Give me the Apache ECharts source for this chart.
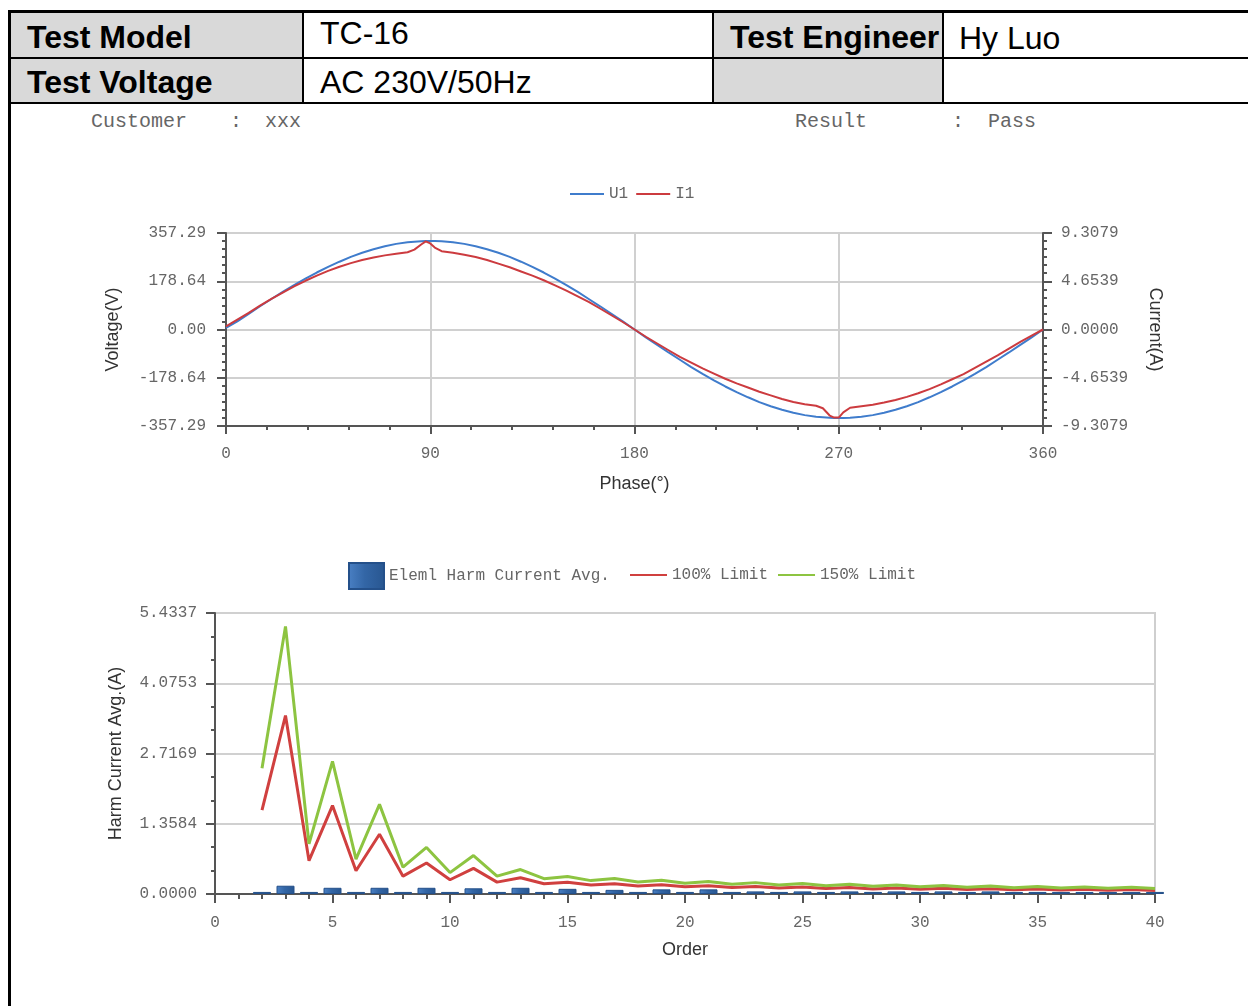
<!DOCTYPE html>
<html>
<head>
<meta charset="utf-8">
<script src="https://cdn.jsdelivr.net/npm/echarts@6/dist/echarts.min.js"></script>
<style>
body { margin: 0; width: 1248px; height: 1006px; position: relative; overflow: hidden; background: #fff; }
.cell { position: absolute; background: #d9d9d9; }
.bar { position: absolute; background: #000; }
.hd { position: absolute; font-family: "Liberation Sans", Arial, sans-serif; font-size: 32px; color: #000; white-space: nowrap; line-height: 1; }
.hd.b { font-weight: bold; }
.info { position: absolute; font-family: "Liberation Mono", monospace; font-size: 20px; color: #666; white-space: pre; line-height: 1; }
#main { position: absolute; left: 0; top: 0; width: 1248px; height: 1006px; }
</style>
</head>
<body>
<!-- header table -->
<div class="cell" style="left:11px;top:13px;width:292px;height:90px"></div>
<div class="cell" style="left:714px;top:13px;width:229px;height:90px"></div>
<div class="bar" style="left:8px;top:10px;width:1240px;height:3px"></div>
<div class="bar" style="left:8px;top:57px;width:1240px;height:2px"></div>
<div class="bar" style="left:8px;top:102px;width:1240px;height:2px"></div>
<div class="bar" style="left:8px;top:10px;width:3px;height:996px"></div>
<div class="bar" style="left:302px;top:10px;width:2px;height:94px"></div>
<div class="bar" style="left:712px;top:10px;width:2px;height:94px"></div>
<div class="bar" style="left:942px;top:10px;width:2px;height:94px"></div>
<div class="hd b" style="left:27px;top:21px">Test Model</div>
<div class="hd" style="left:320px;top:17px">TC-16</div>
<div class="hd b" style="left:730px;top:21px">Test Engineer</div>
<div class="hd" style="left:959px;top:22px">Hy Luo</div>
<div class="hd b" style="left:27px;top:66px">Test Voltage</div>
<div class="hd" style="left:320px;top:66px">AC 230V/50Hz</div>
<div class="info" style="left:91px;top:112px">Customer</div>
<div class="info" style="left:230px;top:112px">:</div>
<div class="info" style="left:265px;top:112px">xxx</div>
<div class="info" style="left:795px;top:112px">Result</div>
<div class="info" style="left:952px;top:112px">:</div>
<div class="info" style="left:988px;top:112px">Pass</div>
<div id="main"></div>
<script>
// waveform, phase in degrees
const phase = [0,5,10,15,20,25,30,35,40,45,50,55,60,65,70,75,80,83,86,88,90,92,95,100,105,110,115,120,125,130,135,140,145,150,155,160,165,170,175,180,185,190,195,200,205,210,215,220,225,230,235,240,245,250,255,260,263,266,268,270,272,275,280,285,290,295,300,305,310,315,320,325,330,335,340,345,350,355,360];
const u1 = [6,30,58,86,113,139,164,188,211,232,251,269,284,297,308,317,323,325,327,328,328,328,327,323,317,308,297,284,269,251,232,211,188,164,139,112,85,57,29,0,-29,-57,-85,-112,-139,-164,-188,-211,-232,-251,-269,-284,-297,-308,-317,-323,-325,-327,-328,-328,-328,-327,-323,-317,-308,-297,-284,-269,-251,-232,-211,-188,-164,-139,-112,-85,-57,-29,0];
const i1 = [0.3,0.95,1.6,2.3,2.95,3.55,4.15,4.7,5.2,5.65,6.05,6.4,6.7,6.95,7.15,7.3,7.45,7.7,8.2,8.5,8.3,7.9,7.55,7.4,7.2,7.0,6.7,6.35,6.0,5.6,5.2,4.75,4.25,3.75,3.2,2.65,2.0,1.35,0.7,0,-0.7,-1.35,-2.0,-2.65,-3.2,-3.75,-4.25,-4.75,-5.2,-5.6,-6.0,-6.35,-6.7,-7.0,-7.2,-7.35,-7.6,-8.3,-8.5,-8.5,-8.0,-7.55,-7.4,-7.25,-7.05,-6.8,-6.5,-6.15,-5.75,-5.3,-4.8,-4.3,-3.7,-3.1,-2.5,-1.85,-1.2,-0.6,0];
const voltTicks = ['-357.29','-178.64','0.00','178.64','357.29'];
const currTicks = ['-9.3079','-4.6539','0.0000','4.6539','9.3079'];

// harmonics
const orders = [2,3,4,5,6,7,8,9,10,11,12,13,14,15,16,17,18,19,20,21,22,23,24,25,26,27,28,29,30,31,32,33,34,35,36,37,38,39,40];
const harmAvg = [0.04,0.16,0.04,0.12,0.04,0.12,0.04,0.12,0.04,0.11,0.04,0.12,0.04,0.10,0.04,0.08,0.04,0.09,0.04,0.09,0.04,0.05,0.04,0.05,0.04,0.05,0.04,0.05,0.04,0.05,0.04,0.05,0.04,0.04,0.04,0.04,0.04,0.04,0.04];
const limit100 = [1.62,3.45,0.645,1.71,0.45,1.155,0.345,0.60,0.276,0.495,0.23,0.315,0.197,0.225,0.173,0.199,0.153,0.178,0.138,0.161,0.125,0.147,0.115,0.135,0.106,0.125,0.099,0.116,0.092,0.109,0.086,0.102,0.081,0.096,0.077,0.091,0.073,0.087,0.069];
const limit150 = [2.43,5.175,0.968,2.565,0.675,1.733,0.518,0.90,0.414,0.743,0.345,0.473,0.296,0.338,0.259,0.298,0.23,0.266,0.207,0.241,0.188,0.22,0.173,0.203,0.159,0.188,0.148,0.175,0.138,0.163,0.129,0.153,0.122,0.145,0.115,0.137,0.109,0.13,0.104];
const harmTicks = ['0.0000','1.3584','2.7169','4.0753','5.4337'];

const monoFont = 'Liberation Mono';
const sansFont = 'Liberation Sans';
const lblColor = '#666';
const axisCol = '#555';

function tickAxis(labels) {
    const min = Number(labels[0]);
    const max = Number(labels[labels.length - 1]);
    const step = (max - min) / (labels.length - 1);
    return {
        min: min, max: max, interval: step,
        fmt: v => labels[Math.round((v - min) / step)] || ''
    };
}
const vAx = tickAxis(voltTicks);
const cAx = tickAxis(currTicks);
const hAx = tickAxis(harmTicks);

function pairs(xs, ys) {
    return xs.map((x, k) => [x, ys[k]]);
}

const baseLabel = { color: lblColor, fontFamily: monoFont, fontSize: 16 };
const nameStyle = { color: '#333', fontFamily: sansFont, fontSize: 18 };

var myChart = echarts.init(document.getElementById('main'));
var option = {
    animation: false,
    legend: [
        {
            data: ['U1', 'I1'],
            left: 565, top: 181,
            icon: 'rect', itemWidth: 34, itemHeight: 2, itemGap: 8,
            textStyle: baseLabel
        },
        {
            data: ['Eleml Harm Current Avg.'],
            left: 343, top: 557,
            icon: 'rect', itemWidth: 35, itemHeight: 26,
            textStyle: baseLabel
        },
        {
            data: ['100% Limit', '150% Limit'],
            left: 625, top: 562,
            icon: 'rect', itemWidth: 37, itemHeight: 2, itemGap: 10,
            textStyle: baseLabel
        }
    ],
    grid: [
        { left: 226, top: 233, width: 817, height: 193, outerBoundsMode: 'none' },
        { left: 215, top: 613, width: 940, height: 281, outerBoundsMode: 'none',
          show: true, borderColor: '#cfcfcf', borderWidth: 2 }
    ],
    xAxis: [
        {
            gridIndex: 0, type: 'value', min: 0, max: 360, interval: 90,
            name: 'Phase(°)', nameLocation: 'middle', nameGap: 49, nameTextStyle: nameStyle,
            axisLine: { onZero: false, lineStyle: { color: axisCol, width: 2 } },
            axisTick: { length: 8, lineStyle: { color: axisCol, width: 2 } },
            minorTick: { show: true, splitNumber: 5, length: 4, lineStyle: { color: axisCol, width: 2 } },
            axisLabel: Object.assign({ margin: 20 }, baseLabel),
            splitLine: { show: true, lineStyle: { color: '#d0d0d0', width: 2 } }
        },
        {
            gridIndex: 1, type: 'value', min: 0, max: 40, interval: 5,
            name: 'Order', nameLocation: 'middle', nameGap: 47, nameTextStyle: nameStyle,
            axisLine: { onZero: false, lineStyle: { color: axisCol, width: 2 } },
            axisTick: { length: 9, lineStyle: { color: axisCol, width: 2 } },
            minorTick: { show: true, splitNumber: 5, length: 5, lineStyle: { color: axisCol, width: 2 } },
            axisLabel: Object.assign({ margin: 21 }, baseLabel),
            splitLine: { show: false }
        }
    ],
    yAxis: [
        {
            gridIndex: 0, type: 'value', position: 'left',
            min: vAx.min, max: vAx.max, interval: vAx.interval,
            name: 'Voltage(V)', nameLocation: 'middle', nameGap: 104, nameTextStyle: nameStyle,
            axisLine: { show: true, onZero: false, lineStyle: { color: axisCol, width: 2 } },
            axisTick: { show: true, length: 9, lineStyle: { color: axisCol, width: 2 } },
            minorTick: { show: true, splitNumber: 6, length: 4, lineStyle: { color: axisCol, width: 2 } },
            axisLabel: Object.assign({ margin: 20, formatter: vAx.fmt }, baseLabel),
            splitLine: { show: true, lineStyle: { color: '#d0d0d0', width: 2 } }
        },
        {
            gridIndex: 0, type: 'value', position: 'right',
            min: cAx.min, max: cAx.max, interval: cAx.interval,
            name: 'Current(A)', nameLocation: 'middle', nameGap: 103, nameRotate: -90, nameTextStyle: nameStyle,
            axisLine: { show: true, onZero: false, lineStyle: { color: axisCol, width: 2 } },
            axisTick: { show: true, length: 9, lineStyle: { color: axisCol, width: 2 } },
            minorTick: { show: true, splitNumber: 6, length: 4, lineStyle: { color: axisCol, width: 2 } },
            axisLabel: Object.assign({ margin: 18, formatter: cAx.fmt }, baseLabel),
            splitLine: { show: false }
        },
        {
            gridIndex: 1, type: 'value',
            min: hAx.min, max: hAx.max, interval: hAx.interval,
            name: 'Harm Current Avg.(A)', nameLocation: 'middle', nameGap: 90, nameTextStyle: nameStyle,
            axisLine: { show: true, onZero: false, lineStyle: { color: axisCol, width: 2 } },
            axisTick: { show: true, length: 9, lineStyle: { color: axisCol, width: 2 } },
            minorTick: { show: true, splitNumber: 3, length: 4, lineStyle: { color: axisCol, width: 2 } },
            axisLabel: Object.assign({ margin: 18, formatter: hAx.fmt }, baseLabel),
            splitLine: { show: true, lineStyle: { color: '#d0d0d0', width: 2 } }
        }
    ],
    series: [
        {
            name: 'U1', type: 'line', xAxisIndex: 0, yAxisIndex: 0,
            symbol: 'none', data: pairs(phase, u1),
            lineStyle: { color: '#3f7ccc', width: 2 }, itemStyle: { color: '#3f7ccc' }
        },
        {
            name: 'I1', type: 'line', xAxisIndex: 0, yAxisIndex: 1,
            symbol: 'none', data: pairs(phase, i1),
            lineStyle: { color: '#cc3b3f', width: 2 }, itemStyle: { color: '#cc3b3f' }
        },
        {
            name: 'Eleml Harm Current Avg.', type: 'bar', xAxisIndex: 1, yAxisIndex: 2,
            barWidth: 18, data: pairs(orders, harmAvg),
            itemStyle: {
                color: new echarts.graphic.LinearGradient(0, 0, 1, 0, [
                    { offset: 0, color: '#4a80c4' },
                    { offset: 0.45, color: '#3366a6' },
                    { offset: 1, color: '#285690' }
                ]),
                borderColor: '#24508a', borderWidth: 1
            }
        },
        {
            name: '100% Limit', type: 'line', xAxisIndex: 1, yAxisIndex: 2,
            symbol: 'none', data: pairs(orders, limit100),
            lineStyle: { color: '#d0403f', width: 3 }, itemStyle: { color: '#d0403f' }
        },
        {
            name: '150% Limit', type: 'line', xAxisIndex: 1, yAxisIndex: 2,
            symbol: 'none', data: pairs(orders, limit150),
            lineStyle: { color: '#8dc441', width: 3 }, itemStyle: { color: '#8dc441' }
        }
    ]
};
option && myChart.setOption(option);
</script>
</body>
</html>
